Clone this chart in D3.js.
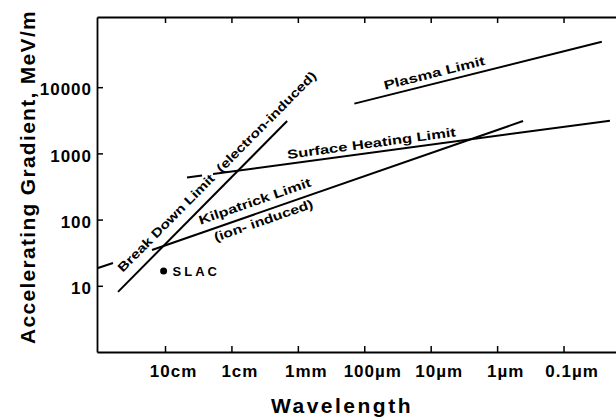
<!DOCTYPE html>
<html>
<head>
<meta charset="utf-8">
<script src="https://cdn.jsdelivr.net/npm/d3@7"></script>
<style>
  body { margin: 0; background: #fff; }
  text { font-family: "Liberation Sans", Arial, sans-serif; fill: #000; }
</style>
</head>
<body>
<svg id="chart" width="616" height="420"></svg>
<script>
// wavelength in metres, gradient in MeV/m
var xTicks = [1e-1, 1e-2, 1e-3, 1e-4, 1e-5, 1e-6, 1e-7];
var xTickLabels = ["10cm", "1cm", "1mm", "100µm", "10µm", "1µm", "0.1µm"];
var yTicks = [10, 100, 1000, 10000];
var yTickLabels = ["10", "100", "1000", "10000"];

var breakdown = [[0.51, 8.1], [1.45e-3, 3080]];
var kilpatrick = [[0.157, 34.7], [4.07e-7, 3080]];
var kilpatrickDash = [[1.02, 18.6], [0.607, 22.1]];
var surface = [[0.0189, 489], [2.0e-8, 3120]];
var surfaceDash = [[0.0467, 432], [0.0277, 464]];
var plasma = [[1.41e-4, 5640], [2.65e-8, 48700]];
var slac = [0.105, 16.7];

var W = 616, H = 420;
var margin = { top: 17, right: 0, bottom: 68, left: 97 };

var svg = d3.select("#chart");

// wavelength decreases to the right
var x = d3.scaleLog()
  .domain([Math.pow(10, 0.024), Math.pow(10, -7.79)])
  .range([margin.left, W - margin.right]);
var y = d3.scaleLog()
  .domain([1, Math.pow(10, 5.06)])
  .range([H - margin.bottom, margin.top]);

// axes, ticks point inward
var bottom = svg.append("g")
  .attr("transform", "translate(0," + (H - margin.bottom) + ")")
  .call(d3.axisBottom(x).tickValues(xTicks)
    .tickFormat(function(d, i) { return xTickLabels[i]; })
    .tickSizeInner(-6).tickSizeOuter(0).tickPadding(13));
bottom.selectAll("text")
  .attr("dx", 8)
  .style("font-size", "17px").style("font-weight", "bold").style("letter-spacing", "1px");

svg.append("g")
  .attr("transform", "translate(0," + margin.top + ")")
  .call(d3.axisTop(x).tickValues(xTicks).tickFormat("")
    .tickSizeInner(-6).tickSizeOuter(0));

var left = svg.append("g")
  .attr("transform", "translate(" + margin.left + ",0)")
  .call(d3.axisLeft(y).tickValues(yTicks)
    .tickFormat(function(d, i) { return yTickLabels[i]; })
    .tickSizeInner(-6).tickSizeOuter(0).tickPadding(5));
left.selectAll("text")
  .attr("dy", "0.45em")
  .style("font-size", "17px").style("font-weight", "bold").style("letter-spacing", "1px");

svg.selectAll(".domain").attr("stroke-width", 1.8);
svg.selectAll(".tick line").attr("stroke-width", 1.5);

// limit lines
var line = d3.line()
  .x(function(d) { return x(d[0]); })
  .y(function(d) { return y(d[1]); });

[breakdown, kilpatrick, surface, plasma, kilpatrickDash, surfaceDash].forEach(function(seg) {
  svg.append("path")
    .attr("d", line(seg))
    .attr("fill", "none")
    .attr("stroke", "#000")
    .attr("stroke-width", 2);
});

// SLAC point
svg.append("circle")
  .attr("cx", x(slac[0])).attr("cy", y(slac[1]))
  .attr("r", 3.5).attr("fill", "#000");
svg.append("text")
  .attr("x", x(slac[0]) + 9).attr("y", y(slac[1]) + 5)
  .style("font-size", "13px").style("font-weight", "bold").style("letter-spacing", "3px")
  .text("SLAC");

// labels that follow a line: distance along it, offset above it (+) or below (-)
function labelAlong(seg, along, offset, len, txt) {
  var x0 = x(seg[0][0]), y0 = y(seg[0][1]);
  var dx = x(seg[1][0]) - x0, dy = y(seg[1][1]) - y0;
  var L = Math.sqrt(dx * dx + dy * dy);
  var ux = dx / L, uy = dy / L;
  var px = x0 + ux * along + uy * offset;
  var py = y0 + uy * along - ux * offset;
  var ang = Math.atan2(dy, dx) * 180 / Math.PI;
  svg.append("text")
    .attr("transform", "translate(" + px + "," + py + ") rotate(" + ang + ")")
    .attr("textLength", len)
    .attr("lengthAdjust", "spacingAndGlyphs")
    .style("font-size", "12.5px").style("font-weight", "bold")
    .text(txt);
}

labelAlong(breakdown, 17, 10, 276, "Break Down Limit\u00a0\u00a0(electron-induced)");
labelAlong(surface, 76, 5, 170, "Surface Heating Limit");
labelAlong(plasma, 33, 6, 104, "Plasma Limit");
labelAlong(kilpatrick, 54, 8, 118, "Kilpatrick Limit");
labelAlong(kilpatrick, 63, -13, 104, "(ion- induced)");

// axis titles
svg.append("text")
  .attr("transform", "translate(35,177) rotate(-90)")
  .attr("text-anchor", "middle")
  .style("font-size", "21px").style("font-weight", "bold").style("letter-spacing", "1.3px")
  .text("Accelerating Gradient, MeV/m");

svg.append("text")
  .attr("x", 342).attr("y", 413)
  .attr("text-anchor", "middle")
  .style("font-size", "21px").style("font-weight", "bold").style("letter-spacing", "2.5px")
  .text("Wavelength");
</script>
</body>
</html>
